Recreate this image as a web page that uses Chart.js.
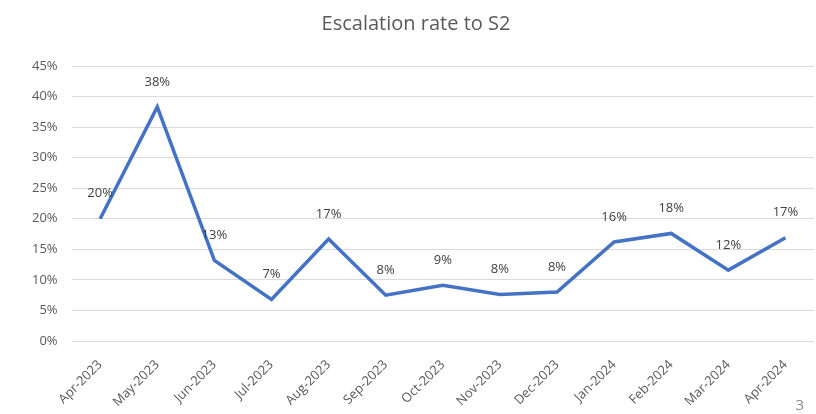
<!DOCTYPE html>
<html>
<head>
<meta charset="utf-8">
<script src="https://cdn.jsdelivr.net/npm/chart.js@4"></script>
<style>
  html, body { margin: 0; padding: 0; background: #fff; }
  #wrap { position: relative; width: 816px; height: 414px; }
  #pageNo { position: absolute; right: 12px; bottom: 0px; font: 15px "Open Sans", sans-serif; color: #8c8c8c; }
</style>
</head>
<body>
<div id="wrap">
  <canvas id="myChart" width="816" height="414"></canvas>
  <div id="pageNo">3</div>
</div>
<script>
const months = ['Apr-2023', 'May-2023', 'Jun-2023', 'Jul-2023', 'Aug-2023', 'Sep-2023', 'Oct-2023',
  'Nov-2023', 'Dec-2023', 'Jan-2024', 'Feb-2024', 'Mar-2024', 'Apr-2024'];
const escalationRate = [20.0, 38.3, 13.2, 6.8, 16.7, 7.5, 9.1, 7.6, 8.0, 16.2, 17.6, 11.6, 16.9];
const yTicks = [0, 5, 10, 15, 20, 25, 30, 35, 40, 45];

const textColor = '#595959';
const fontFamily = '"Open Sans", sans-serif';

// value labels above each point
const valueLabels = {
  id: 'valueLabels',
  afterDatasetsDraw(chart) {
    const ctx = chart.ctx;
    const meta = chart.getDatasetMeta(0);
    ctx.save();
    ctx.font = '13px ' + fontFamily;
    ctx.fillStyle = '#404040';
    ctx.textAlign = 'center';
    ctx.textBaseline = 'middle';
    meta.data.forEach((pt, i) => {
      const v = chart.data.datasets[0].data[i];
      ctx.fillText(Math.round(v) + '%', pt.x, pt.y - 25);
    });
    ctx.restore();
  }
};

const ctx = document.getElementById('myChart');
new Chart(ctx, {
  type: 'line',
  data: {
    labels: months,
    datasets: [{
      label: 'Escalation rate',
      data: escalationRate,
      borderColor: '#4472C4',
      borderWidth: 3.5,
      pointRadius: 0,
      fill: false,
      tension: 0
    }]
  },
  options: {
    responsive: false,
    animation: false,
    layout: { padding: { left: 18, right: 2, top: 8, bottom: 0 } },
    plugins: {
      legend: { display: false },
      tooltip: { enabled: false },
      title: {
        display: true,
        text: 'Escalation rate to S2',
        color: textColor,
        font: { family: fontFamily, size: 20, weight: 'normal' },
        padding: { top: 4, bottom: 30 }
      }
    },
    scales: {
      x: {
        offset: true,
        grid: { display: false },
        border: { display: false },
        ticks: {
          color: textColor,
          font: { family: fontFamily, size: 13 },
          minRotation: 45,
          maxRotation: 45,
          padding: 8,
          autoSkip: false
        },
        afterFit(scale) { scale.height = 73; }
      },
      y: {
        min: 0,
        max: 45,
        afterBuildTicks(scale) { scale.ticks = yTicks.map(v => ({ value: v })); },
        grid: { color: '#d9d9d9', drawTicks: false },
        border: { display: false },
        ticks: {
          color: textColor,
          font: { family: fontFamily, size: 13 },
          padding: 14,
          callback: v => v + '%'
        }
      }
    }
  },
  plugins: [valueLabels]
});
</script>
</body>
</html>
